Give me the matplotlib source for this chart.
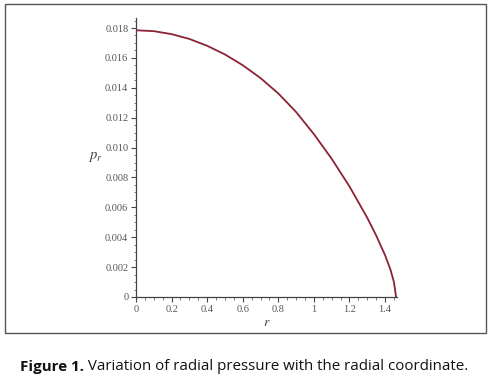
import matplotlib
matplotlib.use("Agg")
import matplotlib.pyplot as plt
from matplotlib.patches import Rectangle
from matplotlib.ticker import MultipleLocator

r_vals = [0.0, 0.1, 0.2, 0.3, 0.4, 0.5, 0.6, 0.7, 0.8, 0.9, 1.0, 1.1, 1.2, 1.3, 1.35, 1.4, 1.43, 1.45, 1.462]
pr_vals = [0.01785, 0.01779, 0.01759, 0.01727, 0.01681, 0.01623, 0.01551, 0.01465, 0.01362,
           0.01238, 0.01090, 0.00925, 0.00740, 0.00530, 0.00412, 0.00280, 0.00185, 0.00100, 0.0]
x_ticks = [0, 0.2, 0.4, 0.6, 0.8, 1.0, 1.2, 1.4]
x_tick_labels = ["0", "0.2", "0.4", "0.6", "0.8", "1", "1.2", "1.4"]
y_ticks = [0, 0.002, 0.004, 0.006, 0.008, 0.010, 0.012, 0.014, 0.016, 0.018]
y_tick_labels = ["0", "0.002", "0.004", "0.006", "0.008", "0.010", "0.012", "0.014", "0.016", "0.018"]
caption_bold = "Figure 1."
caption_text = " Variation of radial pressure with the radial coordinate."

W, H = 492, 383
fig = plt.figure(figsize=(W / 100, H / 100), dpi=100)
fig.patch.set_facecolor("white")

# outer frame
fig.patches.append(Rectangle((5 / W, 1 - 333 / H), 481 / W, 329 / H, transform=fig.transFigure,
                             fill=False, edgecolor="#555555", linewidth=1.0))

ax = fig.add_axes([136 / W, 1 - 297 / H, (397.5 - 136) / W, (297 - 18) / H])
ax.plot(r_vals, pr_vals, color="#8b2235", linewidth=1.3)
ax.set_xlim(0, 1.47)
ax.set_ylim(0, 0.01867)
for s in ["top", "right"]:
    ax.spines[s].set_visible(False)
for s in ["left", "bottom"]:
    ax.spines[s].set_color("#444444")
    ax.spines[s].set_linewidth(0.9)

ax.set_xticks(x_ticks)
ax.set_xticklabels(x_tick_labels)
ax.set_yticks(y_ticks)
ax.set_yticklabels(y_tick_labels)
ax.xaxis.set_minor_locator(MultipleLocator(0.05))
ax.yaxis.set_minor_locator(MultipleLocator(0.0005))
ax.tick_params(which="major", direction="out", length=3.5, width=0.8, color="#444444",
               labelsize=7.5, labelcolor="#555555", pad=2)
ax.tick_params(which="minor", direction="out", length=1.8, width=0.6, color="#666666")
for lbl in ax.get_xticklabels() + ax.get_yticklabels():
    lbl.set_family("Liberation Serif")

fig.text(95 / W, 1 - 157 / H, "$p_r$", fontsize=10.5, color="#444444", ha="center", va="center",
         math_fontfamily="stix")
fig.text(267 / W, 1 - 322 / H, "$r$", fontsize=10, color="#444444", ha="center", va="center",
         math_fontfamily="stix")

t1 = fig.text(20 / W, 1 - 367 / H, caption_bold, fontsize=10.9, fontweight="bold",
              family="Open Sans", ha="left", va="center", color="#111111")
fig.canvas.draw()
bb = t1.get_window_extent()
fig.text(bb.x1 / W, 1 - 367 / H, caption_text, fontsize=10.9, family="Open Sans",
         ha="left", va="center", color="#111111")

fig.savefig("out.png", dpi=100)
